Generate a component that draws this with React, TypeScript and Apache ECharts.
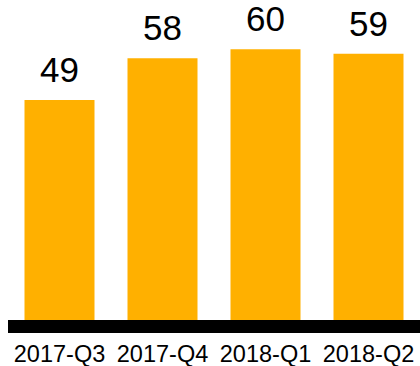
import React, { useEffect, useRef } from "react";
import * as echarts from "echarts";

const categories = ["2017-Q3", "2017-Q4", "2018-Q1", "2018-Q2"];
const values = [49, 58, 60, 59];

export default function App() {
  const ref = useRef<HTMLDivElement>(null);
  useEffect(() => {
    const chart = echarts.init(ref.current!, null, { renderer: "svg" });
    chart.setOption({
      animation: false,
      grid: { left: 8, width: 417, top: 3, bottom: 39.5, containLabel: false },
      xAxis: {
        type: "category",
        data: categories,
        z: 5,
        axisLine: { show: true, lineStyle: { color: "#000", width: 13, cap: "butt" } },
        axisTick: { show: false },
        axisLabel: {
          color: "#000",
          fontSize: 23.5,
          fontFamily: "Liberation Sans, Arial, sans-serif",
          margin: 16,
          interval: 0,
        },
      },
      yAxis: {
        type: "value",
        min: 0,
        max: 70,
        show: false,
        splitLine: { show: false },
      },
      series: [
        {
          type: "bar",
          data: values,
          barWidth: 70,
          itemStyle: { color: "#FFB000" },
          label: {
            show: true,
            position: "top",
            distance: 16.5,
            lineHeight: 28,
            color: "#000",
            fontSize: 35,
            fontFamily: "Liberation Sans, Arial, sans-serif",
          },
        },
      ],
    });
    return () => chart.dispose();
  }, []);
  return <div ref={ref} style={{ width: 420, height: 366, position: "absolute", left: 0, top: 0 }} />;
}
